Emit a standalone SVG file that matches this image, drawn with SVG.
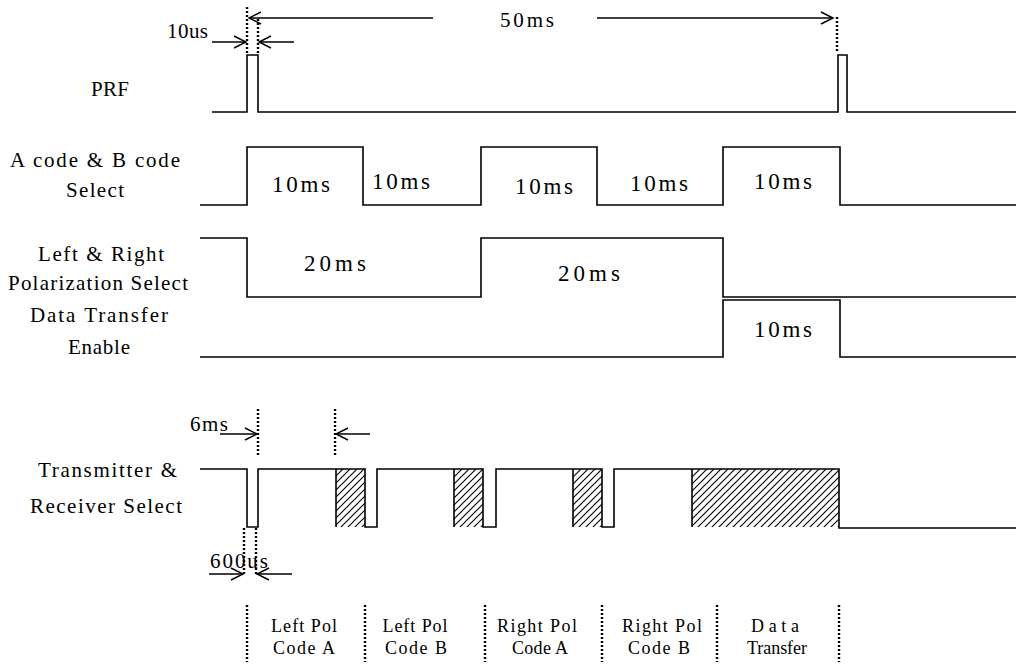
<svg xmlns="http://www.w3.org/2000/svg" width="1016" height="666" viewBox="0 0 1016 666">
<style>
.sig{fill:none;stroke:#000;stroke-width:1.6}
.dot{fill:none;stroke:#000;stroke-width:2.4;stroke-dasharray:2 2}
.arr{fill:none;stroke:#000;stroke-width:1.4}
.lbl{font-family:"Liberation Serif","Times New Roman",serif;font-size:21px;fill:#000}
.seg{font-family:"Liberation Serif","Times New Roman",serif;font-size:23px;fill:#000;text-anchor:middle}
.bot{font-family:"Liberation Serif","Times New Roman",serif;font-size:18px;fill:#000;text-anchor:middle}
</style>
<defs>
<marker id="ah" viewBox="-14 -8 16 16" refX="0" refY="0" markerWidth="16" markerHeight="16" markerUnits="userSpaceOnUse" orient="auto">
<path d="M-12,-6 L0,0 L-12,6" fill="none" stroke="#000" stroke-width="1.4"/>
</marker>
<pattern id="hatch" patternUnits="userSpaceOnUse" width="7" height="7">
<path d="M-1,8 L8,-1 M-1,1 L1,-1 M6,8 L8,6" stroke="#000" stroke-width="1.1"/>
</pattern>
</defs>

<g id="labels">
<text class="lbl" x="91" y="96" textLength="38" lengthAdjust="spacing">PRF</text>
<text class="lbl" x="10" y="167" textLength="170" lengthAdjust="spacing">A code &amp; B code</text>
<text class="lbl" x="66" y="197" textLength="58" lengthAdjust="spacing">Select</text>
<text class="lbl" x="38" y="261" textLength="126" lengthAdjust="spacing">Left &amp; Right</text>
<text class="lbl" x="8" y="290" textLength="180" lengthAdjust="spacing">Polarization Select</text>
<text class="lbl" x="30" y="322" textLength="138" lengthAdjust="spacing">Data Transfer</text>
<text class="lbl" x="68" y="354" textLength="62" lengthAdjust="spacing">Enable</text>
<text class="lbl" x="38" y="477" textLength="139" lengthAdjust="spacing">Transmitter &amp;</text>
<text class="lbl" x="30" y="513" textLength="152" lengthAdjust="spacing">Receiver Select</text>
</g>

<g id="prf">
<path class="sig" d="M212,112 H247 V55 H258 V112 H838 V55 H847 V112 H1016"/>
</g>
<g id="ab-code">
<path class="sig" d="M200,205 H247 V147 H363 V205 H481 V147 H597 V205 H723 V147 H840 V205 H1016"/>
<text class="seg" x="301" y="192" textLength="58" lengthAdjust="spacing">10ms</text>
<text class="seg" x="401" y="189" textLength="58" lengthAdjust="spacing">10ms</text>
<text class="seg" x="544" y="194" textLength="58" lengthAdjust="spacing">10ms</text>
<text class="seg" x="659" y="191" textLength="58" lengthAdjust="spacing">10ms</text>
<text class="seg" x="783" y="189" textLength="58" lengthAdjust="spacing">10ms</text>
</g>
<g id="polarization">
<path class="sig" d="M200,238 H247 V297 H481 V238 H723 V297 H1016"/>
<text class="seg" x="335" y="271" textLength="62" lengthAdjust="spacing">20ms</text>
<text class="seg" x="589" y="281" textLength="62" lengthAdjust="spacing">20ms</text>
</g>
<g id="data-transfer">
<path class="sig" d="M200,357 H723 V300 H840 V357 H1016"/>
<text class="seg" x="783" y="337" textLength="58" lengthAdjust="spacing">10ms</text>
</g>
<g id="txrx">
<rect x="336" y="469" width="29" height="58" fill="url(#hatch)"/>
<rect x="454" y="469" width="29" height="58" fill="url(#hatch)"/>
<rect x="573" y="469" width="29" height="58" fill="url(#hatch)"/>
<rect x="692" y="469" width="147" height="58" fill="url(#hatch)"/>
<path class="sig" d="M200,469 H247 V527 H258 V469 H365 V527 H377 V469 H483 V527 H496 V469 H602 V527 H614 V469 H839 V528 H1016 M336,469 V527 M454,469 V527 M573,469 V527 M692,469 V527"/>
</g>

<g id="connectors">
<path class="dot" d="M247,7 V55 M258,19 V55 M837,17 V53"/>
<path class="dot" d="M258,409 V457 M335,409 V457"/>
<path class="dot" d="M244,528 V575 M256,528 V575"/>
<path class="dot" d="M247,605 V662 M365,605 V662 M485,605 V662 M602,605 V662 M717,605 V662 M839,605 V662"/>
<line class="arr" x1="212" y1="42" x2="246" y2="42" marker-end="url(#ah)"/>
<line class="arr" x1="294" y1="42" x2="259" y2="42" marker-end="url(#ah)"/>
<line class="arr" x1="433" y1="18" x2="249" y2="18" marker-end="url(#ah)"/>
<line class="arr" x1="597" y1="18" x2="833" y2="18" marker-end="url(#ah)"/>
<line class="arr" x1="220" y1="434" x2="257" y2="434" marker-end="url(#ah)"/>
<line class="arr" x1="370" y1="434" x2="336" y2="434" marker-end="url(#ah)"/>
<line class="arr" x1="209" y1="574" x2="243" y2="574" marker-end="url(#ah)"/>
<line class="arr" x1="292" y1="574" x2="257" y2="574" marker-end="url(#ah)"/>
</g>

<g id="dim-labels">
<text class="lbl" x="167" y="38" textLength="41" lengthAdjust="spacing">10us</text>
<text class="lbl" x="500" y="27" textLength="54" lengthAdjust="spacing">50ms</text>
<text class="lbl" x="190" y="431" textLength="38" lengthAdjust="spacing">6ms</text>
<text class="lbl" x="210" y="568" textLength="58" lengthAdjust="spacing">600us</text>
</g>

<g id="phase-labels">
<text class="bot" x="304" y="632" textLength="66" lengthAdjust="spacing">Left Pol</text>
<text class="bot" x="304" y="654" textLength="62" lengthAdjust="spacing">Code A</text>
<text class="bot" x="415" y="632" textLength="65" lengthAdjust="spacing">Left Pol</text>
<text class="bot" x="416" y="654" textLength="62" lengthAdjust="spacing">Code B</text>
<text class="bot" x="537" y="632" textLength="80" lengthAdjust="spacing">Right Pol</text>
<text class="bot" x="540" y="654" textLength="56" lengthAdjust="spacing">Code A</text>
<text class="bot" x="662" y="632" textLength="80" lengthAdjust="spacing">Right Pol</text>
<text class="bot" x="659" y="654" textLength="62" lengthAdjust="spacing">Code B</text>
<text class="bot" x="775" y="632" textLength="48" lengthAdjust="spacing">Data</text>
<text class="bot" x="777" y="654" textLength="60" lengthAdjust="spacing">Transfer</text>
</g>
</svg>
